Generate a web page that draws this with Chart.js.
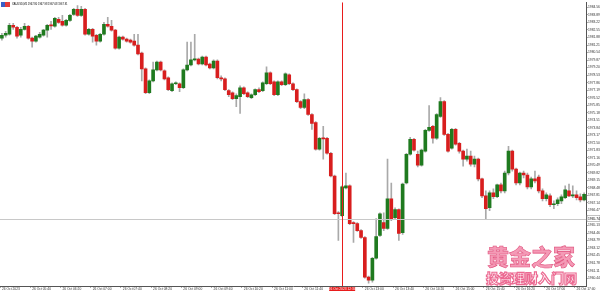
<!DOCTYPE html>
<html>
<head>
<meta charset="utf-8">
<script src="https://cdn.jsdelivr.net/npm/chart.js@4.4.0/dist/chart.umd.min.js"></script>
<style>
    html, body { margin: 0; padding: 0; background: #fff; }
    #wrap { position: relative; width: 600px; height: 291px; overflow: hidden; }
    #title { position: absolute; left: 1px; top: 2px; font: 2.6px 'Liberation Sans', sans-serif; color: #000; white-space: nowrap; }
    #title i { display: inline-block; width: 9px; height: 5px; margin-right: 2px; vertical-align: middle;
        background: linear-gradient(90deg, #3a5fc8 0 50%, #e23b3b 50% 100%); }
    .wm { position: absolute; font-family: 'Noto Sans CJK SC', sans-serif; font-weight: 900; white-space: nowrap; line-height: 1; }
    #wm1 { left: 487px; top: 244px; font-size: 22px; color: #f49ab6; -webkit-text-stroke: 0.6px #e0507c; }
    #wm2 { left: 486px; top: 271px; font-size: 13px; color: #fff; -webkit-text-stroke: 1.2px #ec6a92; }
</style>
</head>
<body>
<div id="wrap">
    <canvas id="chart" width="600" height="291"></canvas>
    <div id="title"><i></i>XAUUSD,M5  1967.80 1967.98 1967.68 1967.91</div>
    <div class="wm" id="wm1">黄金之家</div>
    <div class="wm" id="wm2">投资理财入门网</div>
</div>
<script>
// 26 Oct 2023, M5 bars starting 05:00
const opens = [
    1981.82, 1982.08, 1982.17, 1982.97, 1982.79, 1982.08, 1982.61, 1982.88, 1981.82, 1981.55,
    1981.91, 1982.08, 1982.53, 1982.97, 1982.88, 1983.50, 1983.32, 1982.97, 1983.41, 1983.94,
    1984.38, 1983.85, 1984.38, 1982.17, 1982.61, 1982.08, 1981.55, 1982.17, 1983.06, 1982.88,
    1982.53, 1980.94, 1981.91, 1981.73, 1981.64, 1981.55, 1981.20, 1980.49, 1979.08, 1976.96,
    1978.02, 1978.99, 1979.70, 1978.90, 1978.29, 1977.14, 1977.76, 1977.76, 1977.40, 1978.99,
    1979.43, 1979.88, 1979.96, 1979.52, 1980.14, 1979.52, 1979.17, 1979.79, 1978.29, 1978.20,
    1977.14, 1976.96, 1976.43, 1976.61, 1977.40, 1976.96, 1976.52, 1976.78, 1977.23, 1977.14,
    1977.76, 1978.73, 1977.93, 1976.78, 1977.93, 1977.67, 1978.55, 1977.76, 1977.23, 1976.17,
    1975.64, 1976.34, 1975.02, 1974.31, 1971.93, 1972.90, 1972.90, 1971.57, 1969.54, 1966.27,
    1966.01, 1968.48, 1968.66, 1965.39, 1965.30, 1964.68, 1964.06, 1960.53, 1960.27, 1962.21,
    1964.24, 1965.39, 1964.86, 1967.51, 1965.83, 1966.54, 1964.50, 1968.92, 1971.48, 1972.81,
    1971.48, 1970.51, 1971.75, 1973.60, 1973.96, 1972.90, 1974.84, 1976.17, 1973.25, 1972.01,
    1973.69, 1972.46, 1971.75, 1971.04, 1971.31, 1970.60, 1971.04, 1969.28, 1967.77, 1966.71,
    1968.04, 1967.69, 1968.75, 1968.22, 1969.81, 1971.75, 1970.16, 1968.92, 1969.81, 1969.63,
    1968.57, 1969.28, 1969.45, 1968.22, 1967.51, 1967.77, 1966.98, 1967.07, 1967.33, 1967.60,
    1968.22, 1967.77, 1967.86, 1967.69, 1967.42
];
const highs = [
    1982.26, 1982.44, 1983.14, 1983.14, 1982.88, 1982.79, 1983.14, 1982.97, 1981.91, 1982.08,
    1982.35, 1982.61, 1983.06, 1983.32, 1983.67, 1983.67, 1983.85, 1983.50, 1983.94, 1984.47,
    1984.73, 1984.65, 1984.47, 1982.70, 1982.70, 1982.17, 1982.26, 1983.23, 1983.67, 1983.41,
    1982.61, 1982.00, 1982.00, 1981.82, 1981.73, 1982.17, 1982.17, 1980.58, 1979.17, 1978.11,
    1979.70, 1979.79, 1979.79, 1978.99, 1978.37, 1977.84, 1977.93, 1977.84, 1979.08, 1981.47,
    1981.47, 1982.17, 1980.05, 1980.23, 1980.23, 1979.61, 1979.88, 1979.88, 1978.46, 1978.29,
    1977.23, 1977.05, 1976.87, 1977.58, 1977.49, 1977.05, 1976.87, 1977.31, 1977.40, 1977.93,
    1979.26, 1978.82, 1978.02, 1978.02, 1978.02, 1978.73, 1978.64, 1977.84, 1977.31, 1976.25,
    1976.87, 1976.43, 1975.11, 1974.40, 1972.99, 1973.96, 1972.99, 1971.66, 1969.63, 1966.36,
    1968.66, 1969.81, 1968.75, 1965.48, 1965.39, 1964.77, 1964.15, 1960.62, 1962.30, 1965.74,
    1966.27, 1966.27, 1971.04, 1968.92, 1966.71, 1966.62, 1968.92, 1971.57, 1972.99, 1972.90,
    1971.75, 1971.93, 1973.69, 1975.81, 1974.05, 1975.11, 1976.52, 1976.25, 1973.34, 1973.78,
    1973.78, 1972.54, 1971.84, 1971.93, 1971.75, 1971.31, 1971.13, 1969.36, 1968.22, 1968.22,
    1968.39, 1968.83, 1968.92, 1969.98, 1972.19, 1971.84, 1970.25, 1969.89, 1969.98, 1969.81,
    1969.45, 1969.98, 1969.63, 1968.39, 1968.04, 1967.95, 1967.33, 1967.60, 1967.86, 1968.66,
    1968.83, 1968.66, 1968.22, 1967.95, 1968.04
];
const lows = [
    1981.64, 1981.91, 1982.08, 1982.61, 1981.82, 1981.91, 1982.53, 1981.73, 1981.02, 1981.47,
    1981.82, 1982.00, 1981.91, 1982.61, 1982.79, 1983.14, 1982.88, 1982.88, 1983.32, 1983.85,
    1983.76, 1983.76, 1982.08, 1982.08, 1981.47, 1981.20, 1981.47, 1982.08, 1982.79, 1982.44,
    1980.85, 1980.85, 1981.64, 1981.47, 1981.38, 1981.11, 1980.32, 1978.02, 1976.87, 1976.87,
    1977.93, 1978.90, 1978.90, 1978.11, 1977.14, 1977.05, 1977.67, 1977.05, 1977.31, 1978.90,
    1979.35, 1979.79, 1979.43, 1979.43, 1979.35, 1979.08, 1979.08, 1978.20, 1978.02, 1977.14,
    1976.61, 1976.34, 1975.72, 1975.11, 1976.78, 1976.52, 1976.43, 1976.70, 1976.96, 1977.05,
    1977.67, 1977.67, 1976.70, 1976.70, 1977.58, 1977.58, 1977.67, 1977.14, 1976.08, 1975.55,
    1975.55, 1974.93, 1973.69, 1971.84, 1971.84, 1971.04, 1971.48, 1969.45, 1966.09, 1963.80,
    1965.92, 1968.39, 1965.21, 1963.62, 1964.60, 1963.97, 1960.44, 1960.00, 1960.09, 1962.12,
    1964.15, 1964.68, 1964.77, 1965.57, 1965.74, 1963.80, 1964.33, 1968.83, 1971.40, 1971.75,
    1970.34, 1970.42, 1971.66, 1973.52, 1972.46, 1972.81, 1974.75, 1973.16, 1971.66, 1971.93,
    1972.28, 1971.57, 1970.42, 1970.87, 1970.42, 1970.34, 1969.10, 1967.60, 1965.74, 1966.45,
    1967.51, 1967.60, 1968.04, 1968.04, 1969.63, 1969.98, 1968.75, 1968.75, 1969.36, 1968.39,
    1968.39, 1968.92, 1968.04, 1967.33, 1967.33, 1966.80, 1966.62, 1966.89, 1967.07, 1967.51,
    1967.69, 1967.60, 1967.42, 1967.24, 1967.33
];
const closes = [
    1982.08, 1982.26, 1982.97, 1982.79, 1982.00, 1982.61, 1982.88, 1981.82, 1981.55, 1982.00,
    1982.17, 1982.53, 1982.97, 1982.92, 1983.59, 1983.23, 1982.97, 1983.41, 1983.85, 1984.38,
    1983.85, 1984.38, 1982.17, 1982.61, 1982.00, 1981.55, 1982.17, 1983.06, 1982.88, 1982.53,
    1980.94, 1981.91, 1981.73, 1981.55, 1981.47, 1981.20, 1980.41, 1979.08, 1976.96, 1978.02,
    1978.99, 1979.70, 1978.99, 1978.20, 1977.23, 1977.76, 1977.84, 1977.40, 1978.99, 1979.43,
    1979.88, 1979.96, 1979.52, 1980.14, 1979.43, 1979.17, 1979.79, 1978.29, 1978.20, 1977.23,
    1976.78, 1976.43, 1976.70, 1977.40, 1976.87, 1976.61, 1976.78, 1977.23, 1977.05, 1977.84,
    1978.73, 1977.76, 1976.78, 1977.93, 1977.67, 1978.64, 1977.76, 1977.23, 1976.17, 1975.64,
    1976.34, 1975.02, 1974.22, 1971.93, 1972.90, 1972.85, 1971.57, 1969.54, 1966.18, 1966.18,
    1968.57, 1968.66, 1965.30, 1965.30, 1964.68, 1964.06, 1960.53, 1960.27, 1962.21, 1964.15,
    1966.18, 1964.86, 1967.51, 1965.65, 1966.54, 1964.42, 1968.83, 1971.48, 1972.81, 1971.84,
    1970.51, 1971.84, 1973.60, 1973.87, 1972.90, 1975.02, 1976.17, 1973.25, 1971.75, 1973.69,
    1972.37, 1971.75, 1971.04, 1971.31, 1970.60, 1971.04, 1969.28, 1967.77, 1966.62, 1968.04,
    1967.69, 1968.75, 1968.22, 1969.81, 1971.75, 1970.16, 1968.92, 1969.81, 1969.63, 1968.57,
    1969.28, 1969.10, 1968.22, 1967.51, 1967.86, 1966.98, 1967.07, 1967.42, 1967.69, 1968.30,
    1967.77, 1967.86, 1967.60, 1967.42, 1967.91
];

// one label every 8 bars
const timeLabels = [
    '26 Oct 2023', '26 Oct 05:40', '26 Oct 06:20', '26 Oct 07:00', '26 Oct 07:40',
    '26 Oct 08:20', '26 Oct 09:00', '26 Oct 09:40', '26 Oct 10:20', '26 Oct 11:00',
    '26 Oct 11:40', '26 Oct 12:20', '26 Oct 13:00', '26 Oct 13:40', '26 Oct 14:20',
    '26 Oct 15:00', '26 Oct 15:40', '26 Oct 16:20', '26 Oct 17:00', '26 Oct 17:40'
];
const priceTicks = [
    1984.56, 1983.89, 1983.22, 1982.55, 1981.88, 1981.21, 1980.54, 1979.87, 1979.20, 1978.53,
    1977.86, 1977.19, 1976.52, 1975.85, 1975.18, 1974.51, 1973.84, 1973.17, 1972.50, 1971.83,
    1971.16, 1970.49, 1969.82, 1969.15, 1968.48, 1967.81, 1967.14, 1966.47, 1965.80, 1965.13,
    1964.46, 1963.79, 1963.12, 1962.45, 1961.78, 1961.11, 1960.44
];

const vLineBar = 90;            // 12:30 bar
const vLineLabel = '26 Oct 2023 12:30';
const hLinePrice = 1965.74;

const UP = '#1f7a1f';
const DOWN = '#d81e1e';
const WICK = '#a9a9a9';

const barLabels = opens.map((_, i) => i);
const bodies = opens.map((o, i) => [Math.min(o, closes[i]), Math.max(o, closes[i])]);
const wicks = lows.map((l, i) => [l, highs[i]]);
const bodyColors = opens.map((o, i) => closes[i] >= o ? UP : DOWN);

const overlay = {
    id: 'overlay',
    afterDatasetsDraw(chart) {
        const ctx = chart.ctx;
        const a = chart.chartArea;
        const xs = chart.scales.x, ys = chart.scales.y;
        ctx.save();
        // horizontal line
        const hy = Math.round(ys.getPixelForValue(hLinePrice)) + 0.5;
        ctx.strokeStyle = '#c8c8c8';
        ctx.lineWidth = 1;
        ctx.beginPath();
        ctx.moveTo(a.left, hy);
        ctx.lineTo(a.right, hy);
        ctx.stroke();
        // vertical line
        const vx = Math.round(xs.getPixelForValue(vLineBar)) + 0.5;
        ctx.strokeStyle = '#e81c1c';
        ctx.beginPath();
        ctx.moveTo(vx, a.top);
        ctx.lineTo(vx, a.bottom);
        ctx.stroke();
        ctx.restore();
    },
    afterDraw(chart) {
        const ctx = chart.ctx;
        const a = chart.chartArea;
        const xs = chart.scales.x, ys = chart.scales.y;
        ctx.save();
        ctx.font = '3.3px "Liberation Sans"';
        ctx.textBaseline = 'middle';
        // time label of the vertical line
        const vx = xs.getPixelForValue(vLineBar);
        ctx.fillStyle = '#e81c1c';
        ctx.fillRect(vx - 13, a.bottom + 1, 26, 4);
        ctx.fillStyle = '#fff';
        ctx.textAlign = 'center';
        ctx.fillText(vLineLabel, vx, a.bottom + 3);
        // price label of the horizontal line
        const hy = ys.getPixelForValue(hLinePrice);
        ctx.fillStyle = '#fff';
        ctx.fillRect(a.right + 1, hy - 3, 13, 6);
        ctx.strokeStyle = '#9a9a9a';
        ctx.lineWidth = 0.6;
        ctx.strokeRect(a.right + 1, hy - 3, 13, 6);
        ctx.fillStyle = '#000';
        ctx.textAlign = 'left';
        ctx.fillText(hLinePrice.toFixed(2), a.right + 2, hy);
        ctx.restore();
    }
};

new Chart(document.getElementById('chart'), {
    type: 'bar',
    data: {
        labels: barLabels,
        datasets: [{
            label: 'body',
            data: bodies,
            backgroundColor: bodyColors,
            borderColor: bodyColors,
            borderWidth: 0,
            barThickness: 3,
            minBarLength: 1,
            grouped: false,
            borderSkipped: false
        }, {
            label: 'wick',
            data: wicks,
            backgroundColor: WICK,
            borderWidth: 0,
            barThickness: 1,
            grouped: false,
            borderSkipped: false
        }]
    },
    options: {
        responsive: false,
        animation: false,
        devicePixelRatio: 1,
        layout: { padding: 0 },
        plugins: { legend: { display: false }, tooltip: { enabled: false } },
        scales: {
            x: {
                offset: true,
                afterFit: s => { s.height = 5; },
                border: { color: '#555', width: 1 },
                grid: {
                    drawOnChartArea: false,
                    tickLength: 1.5,
                    color: c => (c.index % 8 === 0 ? '#555' : 'rgba(0,0,0,0)')
                },
                ticks: {
                    autoSkip: false,
                    maxRotation: 0,
                    minRotation: 0,
                    align: 'start',
                    padding: 0,
                    color: '#333',
                    font: { family: 'Liberation Sans', size: 3.3 },
                    callback: (v, i) => (i % 8 === 0 && i !== vLineBar - 2 ? timeLabels[i / 8] : '')
                }
            },
            y: {
                position: 'right',
                min: 1959.74,
                max: 1985.0,
                afterFit: s => { s.width = 14; },
                afterBuildTicks: s => { s.ticks = priceTicks.map(v => ({ value: v })); },
                border: { color: '#555', width: 1 },
                grid: { drawOnChartArea: false, tickLength: 1.5, color: '#555' },
                ticks: {
                    padding: 0.5,
                    color: '#333',
                    font: { family: 'Liberation Sans', size: 3.3 },
                    callback: v => v.toFixed(2)
                }
            }
        }
    },
    plugins: [overlay]
});
</script>
</body>
</html>
